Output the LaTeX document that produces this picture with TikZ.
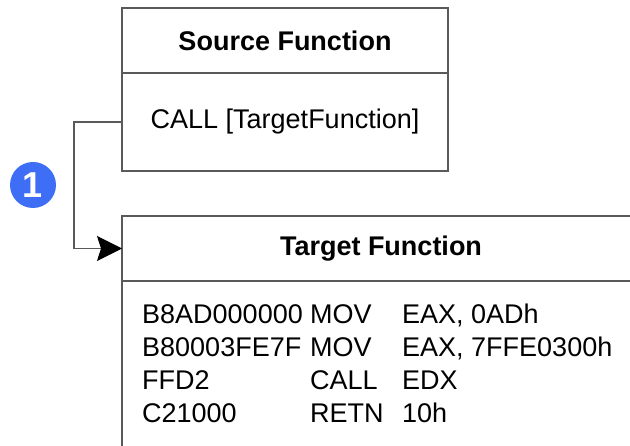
\documentclass[tikz,border=0pt]{standalone}
\usepackage{fontspec}
\setmainfont{Liberation Sans}
\usepackage{xcolor}
\usepackage{tikz}
\usetikzlibrary{arrows.meta,positioning}
\definecolor{numblue}{RGB}{61,110,245}
\definecolor{boxline}{RGB}{90,90,90}

\begin{document}
\begin{tikzpicture}[
    x=1pt, y=-1pt,
    title/.style={draw=boxline, line width=1.3pt, outer sep=0pt, inner sep=0pt, minimum height=65pt, font=\fontsize{27}{32.7}\selectfont\bfseries},
    body/.style={draw=boxline, line width=1.3pt, outer sep=0pt, inner sep=0pt, font=\fontsize{27}{32.7}\selectfont},
    numdot/.style={circle, fill=numblue, minimum size=46pt, inner sep=0pt, text=white, font=\fontsize{36}{36}\selectfont\bfseries},
    conn/.style={draw=boxline, line width=1.3pt, -{Stealth[length=25pt, width=25pt, inset=4pt, color=black]}}
]
\useasboundingbox (0,0) rectangle (630,446);
\clip (0,0) rectangle (630,446);
\node[title, minimum width=326pt] (srctitle) at (285,40.5) {Source Function};
\node[body, minimum width=326pt, minimum height=98pt, below=0pt of srctitle] (srcbody) {CALL [TargetFunction]};
\node[title, minimum width=518pt] (tgttitle) at (381,248.5) {Target Function};
\node[body, minimum width=518pt, minimum height=220pt, below=0pt of tgttitle] (tgtbody) {};
\node[anchor=base west, inner sep=0pt, font=\fontsize{27}{32.7}\selectfont] (listing) at (142,324) {%
    \begin{tabular}[t]{@{}p{168pt}@{}p{92pt}@{}l@{}}
    B8AD000000 & MOV  & EAX, 0ADh \\
    B80003FE7F & MOV  & EAX, 7FFE0300h \\
    FFD2       & CALL & EDX \\
    C21000     & RETN & 10h
    \end{tabular}};
\node[numdot] (step1) at (33,185) {1};
\draw[conn] (srcbody.west) -- ++(-48,0) |- (tgttitle.west);
\end{tikzpicture}
\end{document}
